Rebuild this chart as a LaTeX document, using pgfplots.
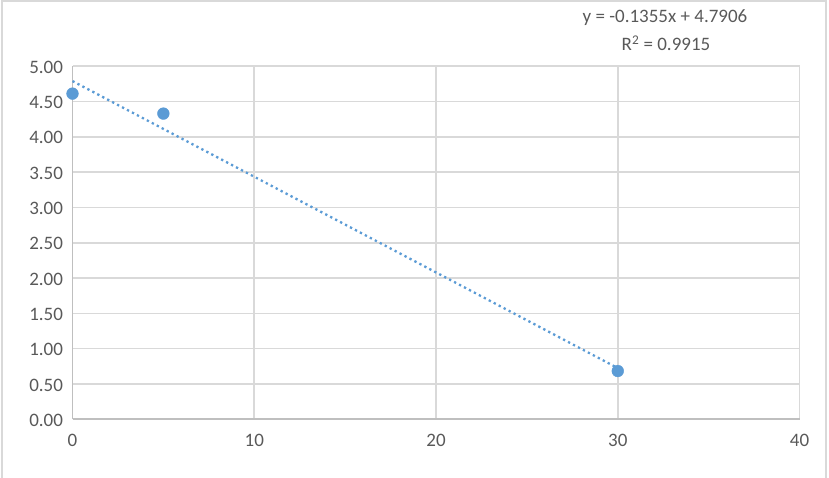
\documentclass[border=0pt]{standalone}
\usepackage{pgfplots}
\pgfplotsset{compat=1.18}
\usepackage{fontspec}
\setmainfont{Carlito}
\definecolor{txtgray}{HTML}{595959}
\definecolor{gridgray}{HTML}{D9D9D9}
\definecolor{axgray}{HTML}{BFBFBF}
\definecolor{xblue}{HTML}{5B9BD5}
\begin{document}
\begin{tikzpicture}[x=1pt,y=1pt]
\path[use as bounding box] (0,0) rectangle (829,478);
\draw[gridgray, line width=1.5pt] (2,-2) -- (2,477) -- (826,477) -- (826,-2);
\begin{axis}[
  at={(72.5pt,58.7pt)}, anchor=south west,
  width=727pt, height=353pt, scale only axis,
  xmin=0, xmax=40, ymin=0, ymax=5,
  xtick={0,10,20,30,40},
  ytick={0,0.5,1,1.5,2,2.5,3,3.5,4,4.5,5},
  axis x line=bottom, axis y line=left,
  axis line style={draw=axgray, line width=1.8pt, -},
  grid=major,
  grid style={draw=gridgray, line width=1.6pt},
  major tick length=0pt,
  tick label style={font=\fontsize{19}{21}\selectfont, text=txtgray},
  /pgf/number format/assume math mode=true,
  yticklabel style={/pgf/number format/fixed, /pgf/number format/fixed zerofill, /pgf/number format/precision=2, anchor=east, xshift=-6pt, yshift=-1pt},
  xticklabel style={anchor=north, yshift=-11pt},
  clip=false,
]
\addplot[xblue, line width=2.3pt, dash pattern=on 2.3pt off 3.3pt] coordinates {(0,4.7906) (30,0.7256)};
\addplot[only marks, mark=*, mark size=5.9pt, color=xblue, mark options={fill=xblue, draw=xblue}] coordinates {(0,4.613) (5,4.33) (30,0.684)};
\end{axis}
\node[text=txtgray, font=\fontsize{19}{21}\selectfont] at (665,460) {y = -0.1355x + 4.7906};
\node[text=txtgray, font=\fontsize{19}{21}\selectfont] at (666,435) {R\textsuperscript{2} = 0.9915};
\end{tikzpicture}
\end{document}
